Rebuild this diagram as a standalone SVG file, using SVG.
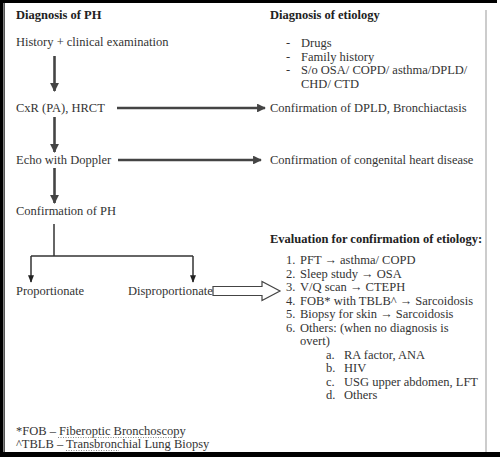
<svg xmlns="http://www.w3.org/2000/svg" width="500" height="457" viewBox="0 0 500 457">
<defs>
<style>
text{font-family:'Liberation Serif','Times New Roman',serif;font-size:12.5px;fill:#333}
.b{font-weight:bold;fill:#222}
.ln{stroke:#444;stroke-width:2.6;fill:none}
.thin{stroke:#333;stroke-width:1.5;fill:none}
.dot{stroke:#888;stroke-width:1;stroke-dasharray:1 1.5}
</style>
<marker id="ah" viewBox="0 0 10 10" refX="9" refY="5" markerWidth="3.4" markerHeight="3.4" orient="auto" markerUnits="strokeWidth">
<path d="M0,0 L10,5 L0,10 Z" fill="#444"/>
</marker>
<marker id="as" viewBox="0 0 10 10" refX="9" refY="5" markerWidth="5" markerHeight="5" orient="auto" markerUnits="strokeWidth">
<path d="M0,1 L10,5 L0,9 Z" fill="#222"/>
</marker>
</defs>
<rect width="500" height="457" fill="#fff"/>
<rect x="0" y="0" width="497" height="3" fill="#000"/>
<rect x="0" y="452" width="500" height="5" fill="#000"/>
<rect x="0" y="0" width="3.5" height="457" fill="#000"/>
<line x1="4.5" y1="3" x2="4.5" y2="452" stroke="#555" stroke-width="1"/>
<line x1="486" y1="10" x2="486" y2="452" stroke="#999" stroke-width="1"/>

<g id="connectors">
<line class="ln" x1="54.5" y1="56" x2="54.5" y2="91" marker-end="url(#ah)"/>
<line class="ln" x1="54.5" y1="117" x2="54.5" y2="152" marker-end="url(#ah)"/>
<line class="ln" x1="54.5" y1="168" x2="54.5" y2="203" marker-end="url(#ah)"/>
<line class="ln" x1="117" y1="108" x2="265" y2="108" marker-end="url(#ah)"/>
<line class="ln" x1="118" y1="160" x2="261" y2="160" marker-end="url(#ah)"/>
<polyline class="thin" points="54,224 54,256"/>
<polyline class="thin" points="31,256 193,256"/>
<line class="thin" x1="31" y1="256" x2="31" y2="282" marker-end="url(#as)"/>
<line class="thin" x1="193" y1="256" x2="193" y2="282" marker-end="url(#as)"/>
<path d="M213,286.5 H262 V281.5 L280,291 L262,300.5 V295.5 H213 Z" fill="#fff" stroke="#444" stroke-width="1.2"/>
</g>

<g id="diag-ph"><text class="b" x="16" y="19">Diagnosis of PH</text></g>
<g id="history"><text x="16" y="46">History + clinical  examination</text></g>
<g id="cxr"><text x="16" y="112">CxR (PA), HRCT</text></g>
<g id="echo"><text x="16" y="164">Echo with Doppler</text></g>
<g id="conf-ph"><text x="16" y="215">Confirmation of PH</text></g>
<g id="proportionate"><text x="16" y="295">Proportionate</text></g>
<g id="disproportionate"><text x="128" y="295">Disproportionate</text></g>

<g id="diag-etiology">
<text class="b" x="270" y="19">Diagnosis  of etiology</text>
<text x="286" y="47">-</text><text x="301" y="47">Drugs</text>
<text x="286" y="60.5">-</text><text x="301" y="60.5">Family history</text>
<text x="286" y="74">-</text><text x="301" y="74">S/o OSA/  COPD/  asthma/DPLD/</text>
<text x="301" y="88">CHD/  CTD</text>
</g>
<g id="conf-dpld"><text x="270" y="112">Confirmation of DPLD,  Bronchiactasis</text></g>
<g id="conf-chd"><text x="270" y="164">Confirmation of congenital  heart disease</text></g>

<g id="evaluation">
<text class="b" x="270" y="243">Evaluation for confirmation  of etiology:</text>
<text x="286" y="264">1.</text><text x="300" y="264">PFT → asthma/  COPD</text>
<text x="286" y="277.5">2.</text><text x="300" y="277.5">Sleep study → OSA</text>
<text x="286" y="291">3.</text><text x="300" y="291">V/Q scan → CTEPH</text>
<text x="286" y="304.5">4.</text><text x="300" y="304.5">FOB* with TBLB^  → Sarcoidosis</text>
<text x="286" y="318">5.</text><text x="300" y="318">Biopsy for skin → Sarcoidosis</text>
<text x="286" y="331.5">6.</text><text x="300" y="331.5">Others: (when no diagnosis  is</text>
<text x="300" y="345">overt)</text>
<text x="326" y="358.5">a.</text><text x="344" y="358.5">RA factor, ANA</text>
<text x="326" y="372">b.</text><text x="344" y="372">HIV</text>
<text x="326" y="385.5">c.</text><text x="344" y="385.5">USG upper  abdomen, LFT</text>
<text x="326" y="399">d.</text><text x="344" y="399">Others</text>
</g>

<g id="footnotes">
<text x="16" y="435">*FOB – Fiberoptic  Bronchoscopy</text>
<text x="16" y="448">^TBLB –  Transbronchial  Lung  Biopsy</text>
<line class="dot" x1="58" y1="437.5" x2="182" y2="437.5"/>
<line class="dot" x1="66" y1="450.5" x2="119" y2="450.5"/>
</g>
</svg>
